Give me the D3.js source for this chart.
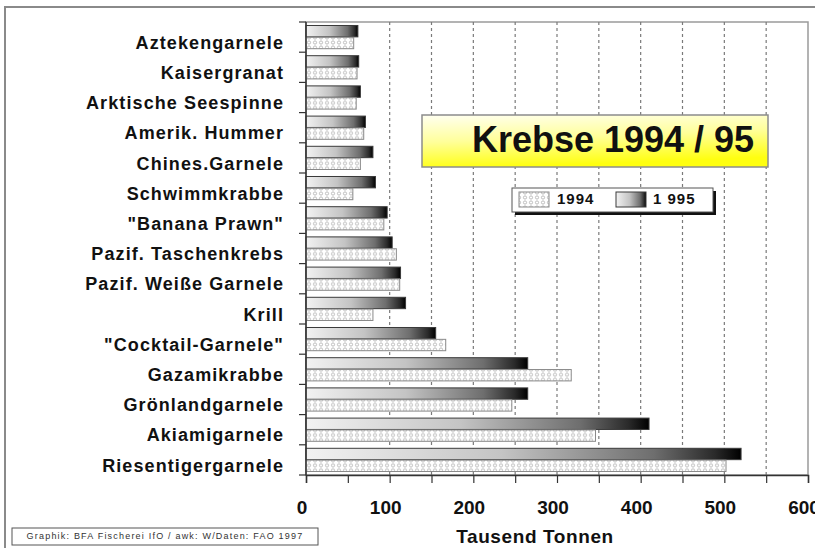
<!DOCTYPE html>
<html>
<head>
<meta charset="utf-8">
<script src="https://cdn.jsdelivr.net/npm/d3@7"></script>
<style>
  body { margin: 0; background: #fff; }
  text { font-family: "Liberation Sans", Arial, sans-serif; }
</style>
</head>
<body>
<div id="chart-container"></div>
<script>
const categories = [
  "Aztekengarnele", "Kaisergranat", "Arktische Seespinne", "Amerik. Hummer",
  "Chines.Garnele", "Schwimmkrabbe", "\"Banana Prawn\"", "Pazif. Taschenkrebs",
  "Pazif. Weiße Garnele", "Krill", "\"Cocktail-Garnele\"", "Gazamikrabbe",
  "Grönlandgarnele", "Akiamigarnele", "Riesentigergarnele"
];
const values1994 = [57, 61, 60, 69, 65, 56, 93, 108, 112, 80, 167, 317, 246, 346, 502];
const values1995 = [62, 63, 65, 71, 80, 83, 97, 103, 113, 119, 155, 265, 265, 410, 520];
const seriesNames = ["1995", "1994"];
const legendLabels = ["1994", "1 995"];
const xTickValues = [0, 100, 200, 300, 400, 500, 600];
const gridValues = [100, 150, 200, 250, 300, 350, 400, 450, 500, 550];
const minorTickValues = [0, 50, 100, 150, 200, 250, 300, 350, 400, 450, 500, 550, 600];
const titleText = "Krebse 1994 / 95";
const axisTitle = "Tausend Tonnen";
const sourceText = "Graphik: BFA Fischerei IfO / awk: W/Daten: FAO 1997";

const width = 815;
const height = 548;
const plot = { left: 306, right: 808, top: 22, bottom: 475 };

const svg = d3
  .select("#chart-container")
  .append("svg")
  .attr("width", width)
  .attr("height", height);

const defs = svg.append("defs");

// 1995: light to black gradient along each bar
const grad = defs.append("linearGradient").attr("id", "g1995")
  .attr("x1", 0).attr("y1", 0).attr("x2", 1).attr("y2", 0);
[[0, "#f2f2f2"], [0.45, "#c4c4c4"], [0.8, "#6e6e6e"], [0.94, "#2a2a2a"], [1, "#000"]]
  .forEach(([o, c]) => grad.append("stop").attr("offset", o).attr("stop-color", c));

// 1994: white with little hollow dots
const pat = defs.append("pattern").attr("id", "p1994")
  .attr("patternUnits", "userSpaceOnUse").attr("width", 6).attr("height", 5);
pat.append("rect").attr("width", 6).attr("height", 5).attr("fill", "#fff");
pat.append("circle").attr("cx", 3).attr("cy", 2.5).attr("r", 1.6)
  .attr("fill", "none").attr("stroke", "#b4b4b4").attr("stroke-width", 0.9);

const titleGrad = defs.append("linearGradient").attr("id", "gTitle")
  .attr("x1", 0).attr("y1", 0).attr("x2", 0.25).attr("y2", 1);
titleGrad.append("stop").attr("offset", 0).attr("stop-color", "#fffff2");
titleGrad.append("stop").attr("offset", 0.5).attr("stop-color", "#ffff9a");
titleGrad.append("stop").attr("offset", 1).attr("stop-color", "#ffff10");

// outer frame
svg.append("rect")
  .attr("x", 5).attr("y", 7).attr("width", width + 10).attr("height", height + 10)
  .attr("fill", "none").attr("stroke", "#8a8a8a").attr("stroke-width", 2);

const x = d3.scaleLinear().domain([0, 600]).range([plot.left, plot.right]);
const y = d3.scaleBand().domain(categories).range([plot.top, plot.bottom])
  .paddingInner(0.2).paddingOuter(0.1);
const ySub = d3.scaleBand().domain(seriesNames).range([0, y.bandwidth()]).padding(0.04);

// plot border
svg.append("rect")
  .attr("x", plot.left).attr("y", plot.top)
  .attr("width", plot.right - plot.left).attr("height", plot.bottom - plot.top)
  .attr("fill", "none").attr("stroke", "#9a9a9a").attr("stroke-width", 1.5);

// dashed grid
svg.append("g").selectAll("line").data(gridValues).enter().append("line")
  .attr("x1", (d) => x(d)).attr("x2", (d) => x(d))
  .attr("y1", plot.top).attr("y2", plot.bottom)
  .attr("stroke", "#7a7a7a").attr("stroke-width", 1.2)
  .attr("stroke-dasharray", "3,3");

// bars
const rows = categories.map((c, i) => ({ cat: c, v1994: values1994[i], v1995: values1995[i] }));
const groups = svg.append("g").selectAll("g").data(rows).enter().append("g")
  .attr("transform", (d) => `translate(0,${y(d.cat)})`);

groups.append("rect")
  .attr("x", x(0)).attr("y", ySub("1995"))
  .attr("width", (d) => x(d.v1995) - x(0)).attr("height", ySub.bandwidth())
  .attr("fill", "url(#g1995)").attr("stroke", "#3a3a3a").attr("stroke-width", 1);

groups.append("rect")
  .attr("x", x(0)).attr("y", ySub("1994"))
  .attr("width", (d) => x(d.v1994) - x(0)).attr("height", ySub.bandwidth())
  .attr("fill", "url(#p1994)").attr("stroke", "#8a8a8a").attr("stroke-width", 1);

// left axis line + ticks at band boundaries
svg.append("line")
  .attr("x1", plot.left).attr("x2", plot.left).attr("y1", plot.top).attr("y2", plot.bottom)
  .attr("stroke", "#333").attr("stroke-width", 1.5);
const boundaries = categories.map((c) => y(c) - (y.step() * y.paddingInner()) / 2);
boundaries.push(plot.bottom);
svg.append("g").selectAll("line").data(boundaries).enter().append("line")
  .attr("x1", plot.left - 7).attr("x2", plot.left)
  .attr("y1", (d) => d).attr("y2", (d) => d)
  .attr("stroke", "#333").attr("stroke-width", 1.2);

// category labels
svg.append("g").selectAll("text").data(categories).enter().append("text")
  .attr("x", 284)
  .attr("y", (d) => y(d) + y.bandwidth() / 2 + 7)
  .attr("text-anchor", "end")
  .attr("dominant-baseline", "middle")
  .attr("font-size", 18)
  .attr("font-weight", "bold")
  .attr("letter-spacing", 1.1)
  .attr("fill", "#111")
  .text((d) => d);

// bottom axis
const xAxis = d3.axisBottom(x).tickValues(minorTickValues).tickSize(8).tickFormat("");
const gx = svg.append("g").attr("transform", `translate(0,${plot.bottom})`).call(xAxis);
gx.select(".domain").attr("stroke", "#333").attr("stroke-width", 1.5);
gx.selectAll(".tick line").attr("stroke", "#333").attr("stroke-width", 1.2);

// the last label runs off the right edge, as in the original
svg.append("g").selectAll("text").data(xTickValues).enter().append("text")
  .attr("x", (d) => x(d) - 4)
  .attr("y", 514)
  .attr("text-anchor", "middle")
  .attr("font-size", 19)
  .attr("font-weight", "bold")
  .attr("fill", "#111")
  .text((d) => d);

svg.append("text")
  .attr("x", 535).attr("y", 543)
  .attr("text-anchor", "middle")
  .attr("font-size", 19).attr("font-weight", "bold")
  .attr("letter-spacing", 0.6)
  .attr("fill", "#111")
  .text(axisTitle);

// title box
svg.append("rect")
  .attr("x", 422).attr("y", 115).attr("width", 346).attr("height", 52)
  .attr("fill", "url(#gTitle)").attr("stroke", "#8c8c8c").attr("stroke-width", 1.5);
svg.append("text")
  .attr("x", 613).attr("y", 152)
  .attr("text-anchor", "middle")
  .attr("font-size", 36).attr("font-weight", "bold")
  .attr("fill", "#111")
  .text(titleText);

// legend
const lg = svg.append("g");
lg.append("rect").attr("x", 515).attr("y", 191).attr("width", 201).attr("height", 24).attr("fill", "#111");
lg.append("rect").attr("x", 512).attr("y", 188).attr("width", 201).attr("height", 24)
  .attr("fill", "#fff").attr("stroke", "#555").attr("stroke-width", 1);
lg.append("rect").attr("x", 519).attr("y", 192).attr("width", 30).attr("height", 15)
  .attr("fill", "url(#p1994)").attr("stroke", "#8a8a8a");
lg.append("rect").attr("x", 616).attr("y", 192).attr("width", 30).attr("height", 15)
  .attr("fill", "url(#g1995)").attr("stroke", "#3a3a3a");
lg.selectAll("text.lab").data(legendLabels).enter().append("text")
  .attr("x", (d, i) => (i === 0 ? 557 : 653))
  .attr("y", 200)
  .attr("dominant-baseline", "middle")
  .attr("font-size", 15).attr("font-weight", "bold")
  .attr("letter-spacing", 1)
  .attr("fill", "#111")
  .text((d) => d);

// source box
svg.append("rect")
  .attr("x", 12).attr("y", 528).attr("width", 306).attr("height", 17)
  .attr("fill", "#fff").attr("stroke", "#555").attr("stroke-width", 1);
svg.append("text")
  .attr("x", 165).attr("y", 537)
  .attr("text-anchor", "middle").attr("dominant-baseline", "middle")
  .attr("font-size", 9).attr("letter-spacing", 1.2).attr("fill", "#333")
  .text(sourceText);
</script>
</body>
</html>
